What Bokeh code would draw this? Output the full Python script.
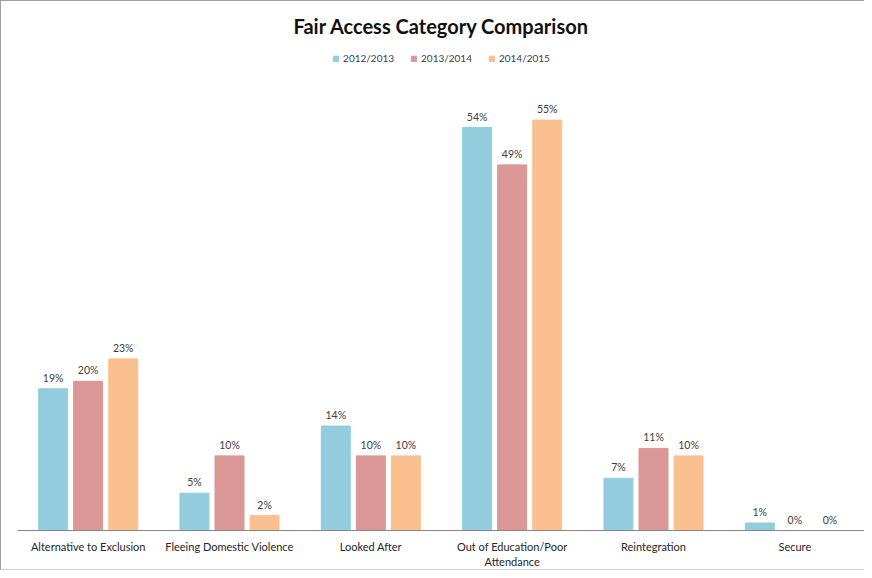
from bokeh.plotting import figure
from bokeh.models import ColumnDataSource, FactorRange, Range1d, Legend, LegendItem
from bokeh.transform import dodge
from bokeh.core.properties import value
from bokeh.embed import file_html
from bokeh.resources import INLINE

categories = ["Alternative to Exclusion", "Fleeing Domestic Violence", "Looked After",
              "Out of Education/Poor\nAttendance", "Reintegration", "Secure"]
years = ["2012/2013", "2013/2014", "2014/2015"]
v2012 = [19, 5, 14, 54, 7, 1]
v2013 = [20, 10, 10, 49, 11, 0]
v2014 = [23, 2, 10, 55, 10, 0]
colors = ["#93CDDD", "#D99795", "#FAC090"]

FONT = "Lato"

src = ColumnDataSource(dict(
    cat=categories,
    a=v2012, b=v2013, c=v2014,
    ta=[f"{v}%" for v in v2012],
    tb=[f"{v}%" for v in v2013],
    tc=[f"{v}%" for v in v2014],
))

p = figure(width=864, height=570, output_backend="svg", toolbar_location=None,
           x_range=FactorRange(factors=categories, range_padding=0),
           y_range=Range1d(0, 65),
           min_border_left=16, min_border_right=0, min_border_bottom=37, min_border_top=44)

p.title.text = "Fair Access Category Comparison"
p.title.align = "center"
p.title.text_font = FONT
p.title.text_font_size = "20px"
p.title.text_font_style = "bold"
p.title.text_color = "#111111"
p.title.standoff = 15

offs = [-0.248, 0.0, 0.248]
cols = ["a", "b", "c"]
tcols = ["ta", "tb", "tc"]
renderers = []
for off, col, tcol, color in zip(offs, cols, tcols, colors):
    r = p.vbar(x=dodge("cat", off, range=p.x_range), top=col, width=0.205, source=src,
               fill_color=color, line_color=color, line_width=1)
    renderers.append(r)
    p.text(x=dodge("cat", off, range=p.x_range), y=col, text=tcol, source=src,
           text_align="center", text_baseline="bottom", y_offset=-5,
           text_font=value(FONT), text_font_size="10.5px", text_color="#404040")

legend = Legend(items=[LegendItem(label=y, renderers=[r]) for y, r in zip(years, renderers)],
                location="top_center", orientation="horizontal",
                glyph_width=7, glyph_height=7, label_height=12, label_standoff=4,
                spacing=16, margin=7, padding=4,
                label_text_font=FONT, label_text_font_size="10px", label_text_color="#404040",
                border_line_color=None, background_fill_alpha=0)
p.add_layout(legend, "center")

p.yaxis.visible = False
p.xgrid.visible = False
p.ygrid.visible = False
p.outline_line_color = None
p.xaxis.axis_line_color = "#868686"
p.xaxis.major_tick_line_color = None
p.xaxis.minor_tick_line_color = None
p.xaxis.major_label_text_font = FONT
p.xaxis.major_label_text_font_size = "11px"
p.xaxis.major_label_text_color = "#262626"
p.xaxis.major_label_standoff = 3
p.styles = {"border-top": "1px solid #a0a0a0", "border-left": "1px solid #a0a0a0",
            "border-bottom": "1px solid #d0d0d0"}

open("out.html", "w").write(file_html(p, INLINE))
